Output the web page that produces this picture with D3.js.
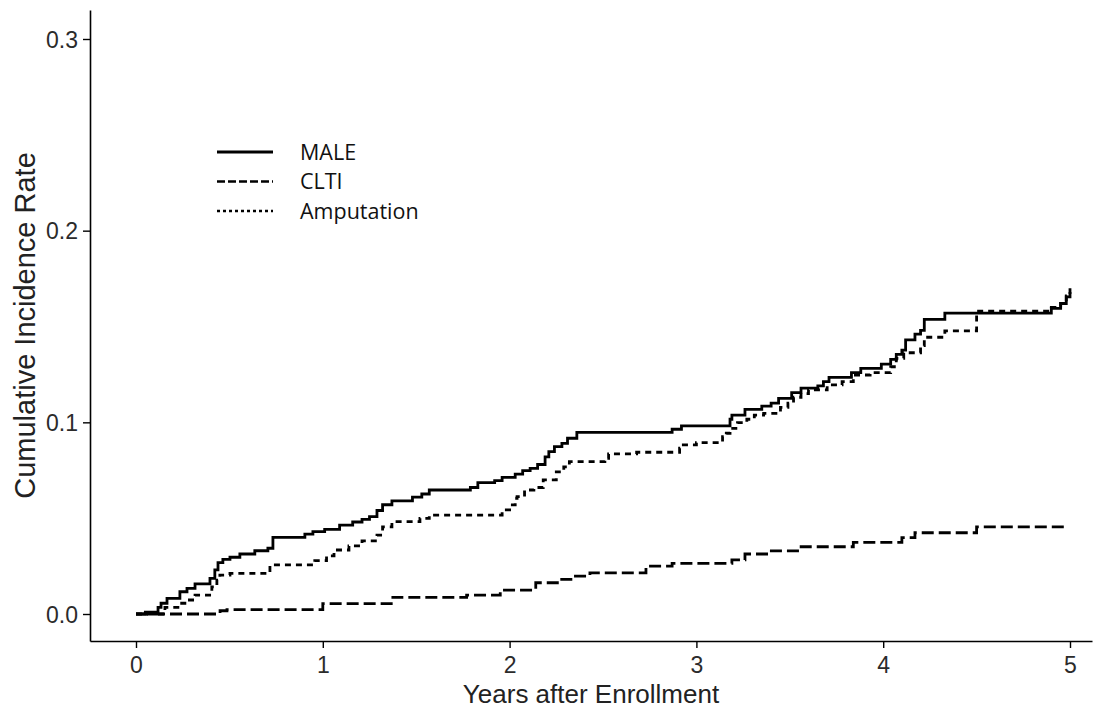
<!DOCTYPE html>
<html>
<head>
<meta charset="utf-8">
<script src="https://cdn.jsdelivr.net/npm/d3@7"></script>
<style>
	body { margin: 0; background: #fff; }
	svg { display: block; }
</style>
</head>
<body>
<svg id="chart" width="1108" height="713"></svg>
<script>
// cumulative incidence, [years, rate]
var maleSeries = [
	[0, 0], [0.05, 0.001], [0.118, 0.0035], [0.134, 0.0056], [0.166, 0.0082], [0.235, 0.0116],
	[0.273, 0.0134], [0.316, 0.0157], [0.396, 0.0186], [0.422, 0.023], [0.439, 0.0268],
	[0.465, 0.0285], [0.503, 0.0296], [0.556, 0.0313], [0.636, 0.033], [0.706, 0.0343],
	[0.733, 0.040], [0.904, 0.0417], [0.947, 0.043], [1.01, 0.0442], [1.09, 0.0464],
	[1.16, 0.048], [1.21, 0.0494], [1.25, 0.0508], [1.29, 0.054], [1.32, 0.057], [1.37, 0.059],
	[1.48, 0.061], [1.53, 0.0626], [1.57, 0.0647], [1.79, 0.066], [1.83, 0.0685], [1.92, 0.0696],
	[1.96, 0.0713], [2.03, 0.073], [2.07, 0.0748], [2.11, 0.076], [2.15, 0.078], [2.19, 0.082],
	[2.21, 0.0847], [2.24, 0.0873], [2.28, 0.089], [2.31, 0.0917], [2.36, 0.0948], [2.87, 0.0964],
	[2.92, 0.0982], [3.18, 0.1016], [3.19, 0.1038], [3.26, 0.1068], [3.35, 0.1085], [3.40, 0.110],
	[3.44, 0.1125], [3.51, 0.1155], [3.56, 0.1178], [3.65, 0.119], [3.68, 0.1212], [3.71, 0.1235],
	[3.83, 0.1259], [3.88, 0.1282], [3.99, 0.1304], [4.04, 0.1329], [4.07, 0.1355], [4.10, 0.1377],
	[4.12, 0.143], [4.17, 0.146], [4.20, 0.148], [4.22, 0.1537], [4.33, 0.157], [4.90, 0.1595],
	[4.95, 0.162], [4.98, 0.1655], [5.0, 0.170]
];

var cltiSeries = [
	[0, 0], [0.45, 0.0017], [0.487, 0.0023], [1.0, 0.0054], [1.375, 0.0087], [1.77, 0.0099],
	[1.95, 0.0125], [2.14, 0.0163], [2.27, 0.0181], [2.34, 0.0198], [2.43, 0.0215], [2.73, 0.025],
	[2.87, 0.0264], [3.19, 0.0282], [3.26, 0.0313], [3.39, 0.0329], [3.55, 0.0351], [3.84, 0.0374],
	[4.10, 0.0398], [4.17, 0.0424], [4.50, 0.0455], [4.98, 0.0455]
];

var amputationSeries = [
	[0, 0], [0.155, 0.0035], [0.235, 0.0056], [0.278, 0.0073], [0.316, 0.0099], [0.406, 0.0142],
	[0.433, 0.0177], [0.449, 0.0203], [0.503, 0.0212], [0.717, 0.0256], [0.957, 0.0278],
	[1.02, 0.0303], [1.06, 0.0334], [1.14, 0.0355], [1.21, 0.0382], [1.29, 0.0412], [1.32, 0.0455],
	[1.37, 0.0482], [1.52, 0.0499], [1.57, 0.0516], [1.96, 0.0543], [2.0, 0.0569], [2.03, 0.0604],
	[2.04, 0.0612], [2.08, 0.0647], [2.13, 0.066], [2.18, 0.070], [2.25, 0.0742], [2.29, 0.0768],
	[2.32, 0.0795], [2.51, 0.0812], [2.53, 0.0835], [2.68, 0.0844], [2.91, 0.0865], [2.93, 0.0882],
	[3.0, 0.0894], [3.14, 0.0925], [3.16, 0.0943], [3.18, 0.0969], [3.22, 0.0998], [3.27, 0.1016],
	[3.31, 0.1038], [3.36, 0.1047], [3.45, 0.1078], [3.49, 0.110], [3.52, 0.1131], [3.56, 0.115],
	[3.60, 0.1169], [3.70, 0.1195], [3.78, 0.1212], [3.84, 0.1247], [3.93, 0.1259], [4.04, 0.129],
	[4.07, 0.1334], [4.11, 0.1363], [4.20, 0.140], [4.22, 0.1444], [4.33, 0.1477], [4.50, 0.158],
	[4.90, 0.160], [4.95, 0.162], [4.98, 0.166], [5.0, 0.168]
];

var seriesNames = ["MALE", "CLTI", "Amputation"];
var xTicks = [0, 1, 2, 3, 4, 5];
var yTicks = [0.0, 0.1, 0.2, 0.3];
var xTitle = "Years after Enrollment";
var yTitle = "Cumulative Incidence Rate";

// panel edges in px
var panel = { left: 90, right: 1092, top: 10, bottom: 641 };

var svg = d3.select("#chart");

// 0..5 maps to 136..1070, 0..0.3 maps to 614..39 (ggplot expansion)
var x = d3.scaleLinear()
	.domain([-46 / 186.8, 5 + 22 / 186.8])
	.range([panel.left, panel.right]);
var y = d3.scaleLinear()
	.domain([-27 / 1916.7, 0.3 + 29 / 1916.7])
	.range([panel.bottom, panel.top]);

var styles = [
	{ data: maleSeries, dash: null, legendDash: null },
	{ data: cltiSeries, dash: "12,5", legendDash: "8,3" },
	{ data: amputationSeries, dash: "6,5", legendDash: "3,3" }
];

var line = d3.line()
	.x(function (d) { return x(d[0]); })
	.y(function (d) { return y(d[1]); })
	.curve(d3.curveStepAfter);

svg.append("g").selectAll("path")
	.data(styles)
	.enter().append("path")
	.attr("d", function (s) { return line(s.data); })
	.attr("fill", "none")
	.attr("stroke", "#000")
	.attr("stroke-width", 2.8)
	.attr("stroke-dasharray", function (s) { return s.dash; });

// axes
var xAxis = svg.append("g")
	.attr("transform", "translate(0," + panel.bottom + ")")
	.call(d3.axisBottom(x).tickValues(xTicks).tickSize(7).tickSizeOuter(0).tickFormat(d3.format("d")));
var yAxis = svg.append("g")
	.attr("transform", "translate(" + panel.left + ",0)")
	.call(d3.axisLeft(y).tickValues(yTicks).tickSize(7).tickSizeOuter(0).tickFormat(d3.format(".1f")));

[xAxis, yAxis].forEach(function (g) {
	g.select(".domain").attr("stroke", "#000").attr("stroke-width", 1.6);
	g.selectAll(".tick line").attr("stroke", "#000").attr("stroke-width", 1.4);
	g.selectAll(".tick text")
		.attr("fill", "#2b2b2b")
		.style("font-family", "'Liberation Sans', Arial, sans-serif")
		.style("font-size", "23px");
});
xAxis.selectAll(".tick text").attr("dy", "0.95em");
yAxis.selectAll(".tick text").attr("x", -12).attr("dy", "0.35em");

svg.append("text")
	.attr("x", (panel.left + panel.right) / 2)
	.attr("y", 703)
	.attr("text-anchor", "middle")
	.style("font-family", "'Liberation Sans', Arial, sans-serif")
	.style("font-size", "26px")
	.attr("fill", "#222")
	.text(xTitle);

svg.append("text")
	.attr("transform", "translate(35," + (panel.top + panel.bottom) / 2 + ") rotate(-90)")
	.attr("text-anchor", "middle")
	.style("font-family", "'Liberation Sans', Arial, sans-serif")
	.style("font-size", "29px")
	.attr("fill", "#222")
	.text(yTitle);

// legend
var legend = svg.append("g").attr("transform", "translate(217,152)");
var rows = legend.selectAll("g")
	.data(seriesNames)
	.enter().append("g")
	.attr("transform", function (d, i) { return "translate(0," + (i * 29.5) + ")"; });

rows.append("line")
	.attr("x1", 0).attr("x2", 56)
	.attr("stroke", "#000")
	.attr("stroke-width", function (d, i) { return i === 0 ? 2.8 : 2.5; })
	.attr("stroke-dasharray", function (d, i) { return styles[i].legendDash; });

rows.append("text")
	.attr("x", 83)
	.attr("dy", "0.35em")
	.style("font-family", "'Open Sans', sans-serif")
	.style("font-size", "21.5px")
	.attr("fill", "#111")
	.text(function (d) { return d; });
</script>
</body>
</html>
